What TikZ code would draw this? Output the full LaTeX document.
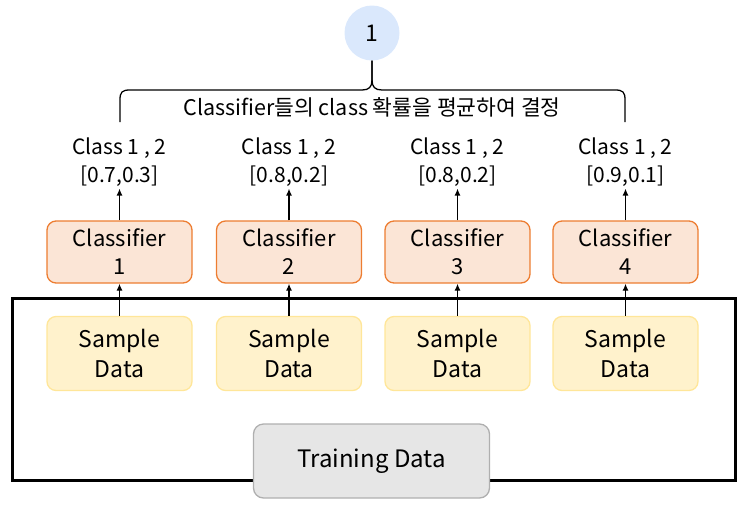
\documentclass[tikz,border=0pt]{standalone}
\usepackage{fontspec}
\setmainfont{Noto Sans CJK KR}
\usepackage{xcolor}
\usetikzlibrary{arrows.meta}
\definecolor{mylblue}{RGB}{218,232,252}
\definecolor{myorange}{RGB}{237,125,49}
\definecolor{mypeach}{RGB}{251,229,214}
\definecolor{myyellow}{RGB}{255,242,204}
\definecolor{mygold}{RGB}{255,230,153}
\definecolor{mygray}{RGB}{230,230,230}
\definecolor{mydgray}{RGB}{175,175,175}

\begin{document}
\begin{tikzpicture}[x=1pt,y=-1pt,
  clsbox/.style={draw=myorange, fill=mypeach, line width=1.3pt, rounded corners=9pt,
    minimum width=145pt, minimum height=62pt, inner sep=0pt, align=center,
    font=\fontsize{22}{28}\selectfont},
  smpbox/.style={draw=mygold, fill=myyellow, line width=1.3pt, rounded corners=9pt,
    minimum width=145pt, minimum height=74pt, inner sep=0pt, align=center,
    font=\fontsize{23}{30}\selectfont},
  lbl/.style={align=center, inner sep=2pt, font=\fontsize{21}{28}\selectfont},
  arr/.style={-{Latex[length=7pt,width=6pt]}, line width=1.3pt}]

\useasboundingbox (0,0) rectangle (747,507);

% top result
\node[circle, fill=mylblue, minimum size=55pt, inner sep=0pt,
  font=\fontsize{23}{28}\selectfont] (top) at (372,33) {1};

% brace
\draw[line width=1.3pt] (120,122) -- (120,100) .. controls (120,92) and (122,90) .. (130,90)
  -- (362,90) .. controls (369,90) and (372,87) .. (372,80) -- (top.south);
\draw[line width=1.3pt] (top.south) -- (372,80) .. controls (372,87) and (375,90) .. (382,90)
  -- (615,90) .. controls (623,90) and (625,92) .. (625,100) -- (625,122);
\node[font=\fontsize{21.5}{24}\selectfont] (avg) at (372,107) {Classifier들의 class 확률을 평균하여 결정};

% training data frame
\draw[line width=3pt] (12,298) rectangle (735,480);
\node[draw=mydgray, fill=mygray, line width=1.3pt, rounded corners=10pt,
  minimum width=236pt, minimum height=74pt, font=\fontsize{24}{28}\selectfont]
  (train) at (371.5,461) {Training Data};

% sample data
\node[smpbox] (s1) at (119.5,353.5) {Sample\\Data};
\node[smpbox] (s2) at (289,353.5) {Sample\\Data};
\node[smpbox] (s3) at (457.5,353.5) {Sample\\Data};
\node[smpbox] (s4) at (625.5,353.5) {Sample\\Data};

% classifiers
\node[clsbox] (c1) at (119.5,252) {Classifier\\1};
\node[clsbox] (c2) at (289,252) {Classifier\\2};
\node[clsbox] (c3) at (457.5,252) {Classifier\\3};
\node[clsbox] (c4) at (625.5,252) {Classifier\\4};

% probabilities
\node[lbl] (p1) at (119.5,162) {Class 1 , 2\\{}[0.7,0.3]};
\node[lbl] (p2) at (289,162) {Class 1 , 2\\{}[0.8,0.2]};
\node[lbl] (p3) at (457.5,162) {Class 1 , 2\\{}[0.8,0.2]};
\node[lbl] (p4) at (625.5,162) {Class 1 , 2\\{}[0.9,0.1]};

\draw[arr] (s1) -- (c1);
\draw[arr] (s2) -- (c2);
\draw[arr] (s3) -- (c3);
\draw[arr] (s4) -- (c4);

\draw[arr] (c1) -- (p1);
\draw[arr] (c2) -- (p2);
\draw[arr] (c3) -- (p3);
\draw[arr] (c4) -- (p4);

\end{tikzpicture}
\end{document}
